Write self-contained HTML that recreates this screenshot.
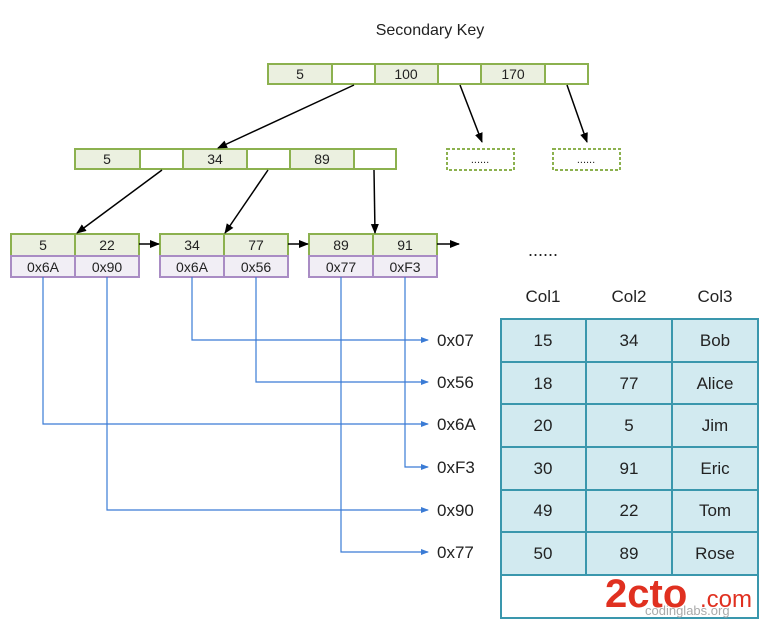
<!DOCTYPE html><html><head><style>body{margin:0;background:#fff}</style></head><body>
<svg width="778" height="628" xmlns="http://www.w3.org/2000/svg" font-family="Liberation Sans, DejaVu Sans, sans-serif">
<defs>
<marker id="a" markerWidth="10" markerHeight="10" refX="9" refY="5" orient="auto" markerUnits="userSpaceOnUse"><path d="M0,1 L10,5 L0,9z" fill="#000"/></marker>
<marker id="b" markerWidth="8" markerHeight="8" refX="7" refY="4" orient="auto" markerUnits="userSpaceOnUse"><path d="M0,1 L8,4 L0,7z" fill="#3a7bd5"/></marker>
</defs>
<text x="430" y="35" font-size="16" text-anchor="middle" fill="#222">Secondary Key</text>
<g stroke="#8cb14f" stroke-width="2">
<rect x="268" y="64" width="64" height="20" fill="#ebf0e0"/><rect x="332" y="64" width="43" height="20" fill="#fff"/>
<rect x="375" y="64" width="63" height="20" fill="#ebf0e0"/><rect x="438" y="64" width="43" height="20" fill="#fff"/>
<rect x="481" y="64" width="64" height="20" fill="#ebf0e0"/><rect x="545" y="64" width="43" height="20" fill="#fff"/>
<rect x="75" y="149" width="65" height="20" fill="#ebf0e0"/><rect x="140" y="149" width="43" height="20" fill="#fff"/>
<rect x="183" y="149" width="64" height="20" fill="#ebf0e0"/><rect x="247" y="149" width="43" height="20" fill="#fff"/>
<rect x="290" y="149" width="64" height="20" fill="#ebf0e0"/><rect x="354" y="149" width="42" height="20" fill="#fff"/>
<rect x="447" y="149" width="67" height="21" fill="none" stroke-dasharray="3,2"/>
<rect x="553" y="149" width="67" height="21" fill="none" stroke-dasharray="3,2"/>
<rect x="11" y="234" width="64" height="22" fill="#ebf0e0"/><rect x="75" y="234" width="64" height="22" fill="#ebf0e0"/>
<rect x="160" y="234" width="64" height="22" fill="#ebf0e0"/><rect x="224" y="234" width="64" height="22" fill="#ebf0e0"/>
<rect x="309" y="234" width="64" height="22" fill="#ebf0e0"/><rect x="373" y="234" width="64" height="22" fill="#ebf0e0"/>
</g>
<g stroke="#a98cc4" stroke-width="2" fill="#f1eef5">
<rect x="11" y="256" width="64" height="21"/><rect x="75" y="256" width="64" height="21"/>
<rect x="160" y="256" width="64" height="21"/><rect x="224" y="256" width="64" height="21"/>
<rect x="309" y="256" width="64" height="21"/><rect x="373" y="256" width="64" height="21"/>
</g>
<g font-size="14" text-anchor="middle" fill="#222">
<text x="300" y="79">5</text><text x="406" y="79">100</text><text x="513" y="79">170</text>
<text x="107" y="164">5</text><text x="215" y="164">34</text><text x="322" y="164">89</text>
<text x="480" y="163" font-size="11">......</text><text x="586" y="163" font-size="11">......</text>
<text x="43" y="250">5</text><text x="107" y="250">22</text><text x="192" y="250">34</text><text x="256" y="250">77</text><text x="341" y="250">89</text><text x="405" y="250">91</text>
<text x="43" y="272">0x6A</text><text x="107" y="272">0x90</text><text x="192" y="272">0x6A</text><text x="256" y="272">0x56</text><text x="341" y="272">0x77</text><text x="405" y="272">0xF3</text>
<text x="543" y="256" font-size="18">......</text>
</g>
<g stroke="#000" stroke-width="1.5" fill="none" marker-end="url(#a)">
<line x1="354" y1="85" x2="218" y2="148"/>
<line x1="460" y1="85" x2="482" y2="142"/>
<line x1="567" y1="85" x2="587" y2="142"/>
<line x1="162" y1="170" x2="77" y2="233"/>
<line x1="268" y1="170" x2="225" y2="233"/>
<line x1="374" y1="170" x2="375" y2="233"/>
<line x1="139" y1="244" x2="159" y2="244"/>
<line x1="288" y1="244" x2="308" y2="244"/>
<line x1="437" y1="244" x2="459" y2="244"/>
</g>
<g stroke="#3a7bd5" stroke-width="1.2" fill="none" marker-end="url(#b)">
<path d="M192,277 V340 H428"/>
<path d="M256,277 V382 H428"/>
<path d="M43,277 V424 H428"/>
<path d="M405,277 V467 H428"/>
<path d="M107,277 V510 H428"/>
<path d="M341,277 V552 H428"/>
</g>
<g font-size="17" fill="#222">
<text x="437" y="346">0x07</text><text x="437" y="388">0x56</text><text x="437" y="430">0x6A</text>
<text x="437" y="473">0xF3</text><text x="437" y="516">0x90</text><text x="437" y="558">0x77</text>
</g>
<g font-size="17" fill="#222" text-anchor="middle">
<text x="543" y="302">Col1</text><text x="629" y="302">Col2</text><text x="715" y="302">Col3</text>
</g>
<g stroke="#3a97ad" stroke-width="2" fill="#d2eaf0">
<rect x="501" y="319" width="257" height="256"/>
<rect x="501" y="575" width="257" height="43" fill="#fff"/>
<line x1="586" y1="319" x2="586" y2="575"/><line x1="672" y1="319" x2="672" y2="575"/>
<line x1="501" y1="362" x2="758" y2="362"/><line x1="501" y1="404" x2="758" y2="404"/>
<line x1="501" y1="447" x2="758" y2="447"/><line x1="501" y1="490" x2="758" y2="490"/>
<line x1="501" y1="532" x2="758" y2="532"/>
</g>
<g font-size="17" fill="#222" text-anchor="middle">
<text x="543" y="346">15</text><text x="629" y="346">34</text><text x="715" y="346">Bob</text>
<text x="543" y="389">18</text><text x="629" y="389">77</text><text x="715" y="389">Alice</text>
<text x="543" y="431">20</text><text x="629" y="431">5</text><text x="715" y="431">Jim</text>
<text x="543" y="474">30</text><text x="629" y="474">91</text><text x="715" y="474">Eric</text>
<text x="543" y="516">49</text><text x="629" y="516">22</text><text x="715" y="516">Tom</text>
<text x="543" y="559">50</text><text x="629" y="559">89</text><text x="715" y="559">Rose</text>
</g>
<text x="605" y="607" font-size="40" font-weight="bold" fill="#e03020">2cto</text>
<text x="700" y="607" font-size="24" fill="#e03020">.com</text>
<text x="645" y="615" font-size="13" fill="#aaa">codinglabs.org</text>
</svg>
</body></html>
